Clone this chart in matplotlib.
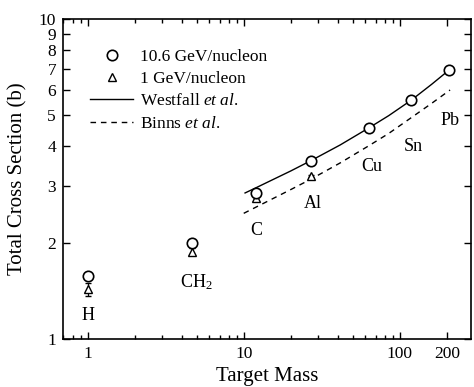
import matplotlib
matplotlib.use("Agg")
import matplotlib.pyplot as plt
from matplotlib.ticker import FixedLocator, NullFormatter, FixedFormatter
from matplotlib.lines import Line2D

plt.rcParams['font.family'] = ['Liberation Serif', 'DejaVu Serif']
plt.rcParams['mathtext.fontset'] = 'custom'
plt.rcParams['mathtext.rm'] = 'Liberation Serif'
plt.rcParams['mathtext.it'] = 'Liberation Serif:italic'

# ---- data ----
targets = ['H', 'CH$_2$', 'C', 'Al', 'Cu', 'Sn', 'Pb']
mass_hi = [1.0, 4.67, 12.0, 27.0, 63.5, 118.7, 207.2]
xs_hi = [1.57, 2.00, 2.86, 3.61, 4.57, 5.58, 6.93]
err_hi = [0.03, 0.03, 0.03, 0.02, 0.02, 0.02, 0.02]

mass_lo = [1.0, 4.67, 12.0, 27.0]
xs_lo = [1.43, 1.875, 2.75, 3.23]
err_lo = [0.065, 0.05, 0.03, 0.03]

westfall_mass = [10.2, 12.0, 20.0, 27.0, 41.5, 63.5, 85.0, 118.7, 160.0, 207.2]
westfall_xs = [2.86, 2.97, 3.35, 3.61, 4.04, 4.57, 4.99, 5.58, 6.25, 6.93]

binns_mass = [10.0, 20.0, 27.0, 41.5, 63.5, 85.0, 118.7, 160.0, 210.0]
binns_xs = [2.47, 2.93, 3.16, 3.55, 4.02, 4.39, 4.92, 5.45, 6.00]

xticks = [1, 10, 100, 200]
xticklabels = ['1', '10', '100', '200']
yticks = [1, 2, 3, 4, 5, 6, 7, 8, 9, 10]

fig = plt.figure(figsize=(4.74, 3.87), dpi=100)
ax = fig.add_axes([63/474, 1-339/387, (471-63)/474, (339-19)/387])
ax.set_xscale('log')
ax.set_yscale('log')
ax.set_xlim(0.695, 286)
ax.set_ylim(1, 10)

l1, = ax.plot(westfall_mass, westfall_xs, '-', color='black', lw=1.0)
l2, = ax.plot(binns_mass, binns_xs, '--', color='black', lw=1.0, dashes=(4, 3.5))
ax.errorbar(mass_hi, xs_hi, yerr=err_hi, fmt='o', mfc='white', mec='black',
            ms=7.5, mew=1.2, ecolor='black', elinewidth=0.9, capsize=2.5, zorder=4)
ax.errorbar(mass_lo, xs_lo, yerr=err_lo, fmt='^', mfc='white', mec='black',
            ms=5.5, mew=1.0, ecolor='black', elinewidth=0.9, capsize=2.5, zorder=3)

h1 = Line2D([], [], marker='o', ls='none', mfc='white', mec='black', ms=7.5, mew=1.2)
h2 = Line2D([], [], marker='^', ls='none', mfc='white', mec='black', ms=5.5, mew=1.0)
ax.legend([h1, h2, l1, l2],
          ['10.6 GeV/nucleon', '1 GeV/nucleon', 'Westfall $et\\ al.$', 'Binns $et\\ al.$'],
          loc='upper left', bbox_to_anchor=(0.066, 0.908), frameon=False,
          fontsize=12.5, handlelength=2.5, handletextpad=0.4, labelspacing=0.36,
          borderpad=0, borderaxespad=0, numpoints=1)

label_pos = [(1.0, 1.185), (5.0, 1.505), (12.1, 2.18), (27.8, 2.65), (66.4, 3.45), (123, 3.99), (211, 4.83)]
for t, (xp, yp) in zip(targets, label_pos):
    ax.text(xp, yp, t, ha='center', va='center', fontsize=13)

ax.xaxis.set_major_locator(FixedLocator(xticks))
ax.xaxis.set_major_formatter(FixedFormatter(xticklabels))
minors = [m * d for d in (0.1, 1, 10, 100) for m in range(2, 10)]
ax.xaxis.set_minor_locator(FixedLocator(minors))
ax.xaxis.set_minor_formatter(NullFormatter())
ax.yaxis.set_major_locator(FixedLocator(yticks))
ax.yaxis.set_major_formatter(FixedFormatter([str(v) for v in yticks]))
ax.yaxis.set_minor_locator(FixedLocator([]))
ax.yaxis.set_minor_formatter(NullFormatter())
ax.tick_params(which='both', direction='in', top=True, right=True, labelsize=12.5, width=1.0)
ax.tick_params(which='major', length=5, pad=5)
ax.tick_params(which='minor', length=3)
for s in ax.spines.values():
    s.set_linewidth(1.2)

ax.set_xlabel('Target Mass', fontsize=15, labelpad=4)
ax.set_ylabel('Total Cross Section (b)', fontsize=15, labelpad=8)

fig.savefig('out.png', dpi=100)
